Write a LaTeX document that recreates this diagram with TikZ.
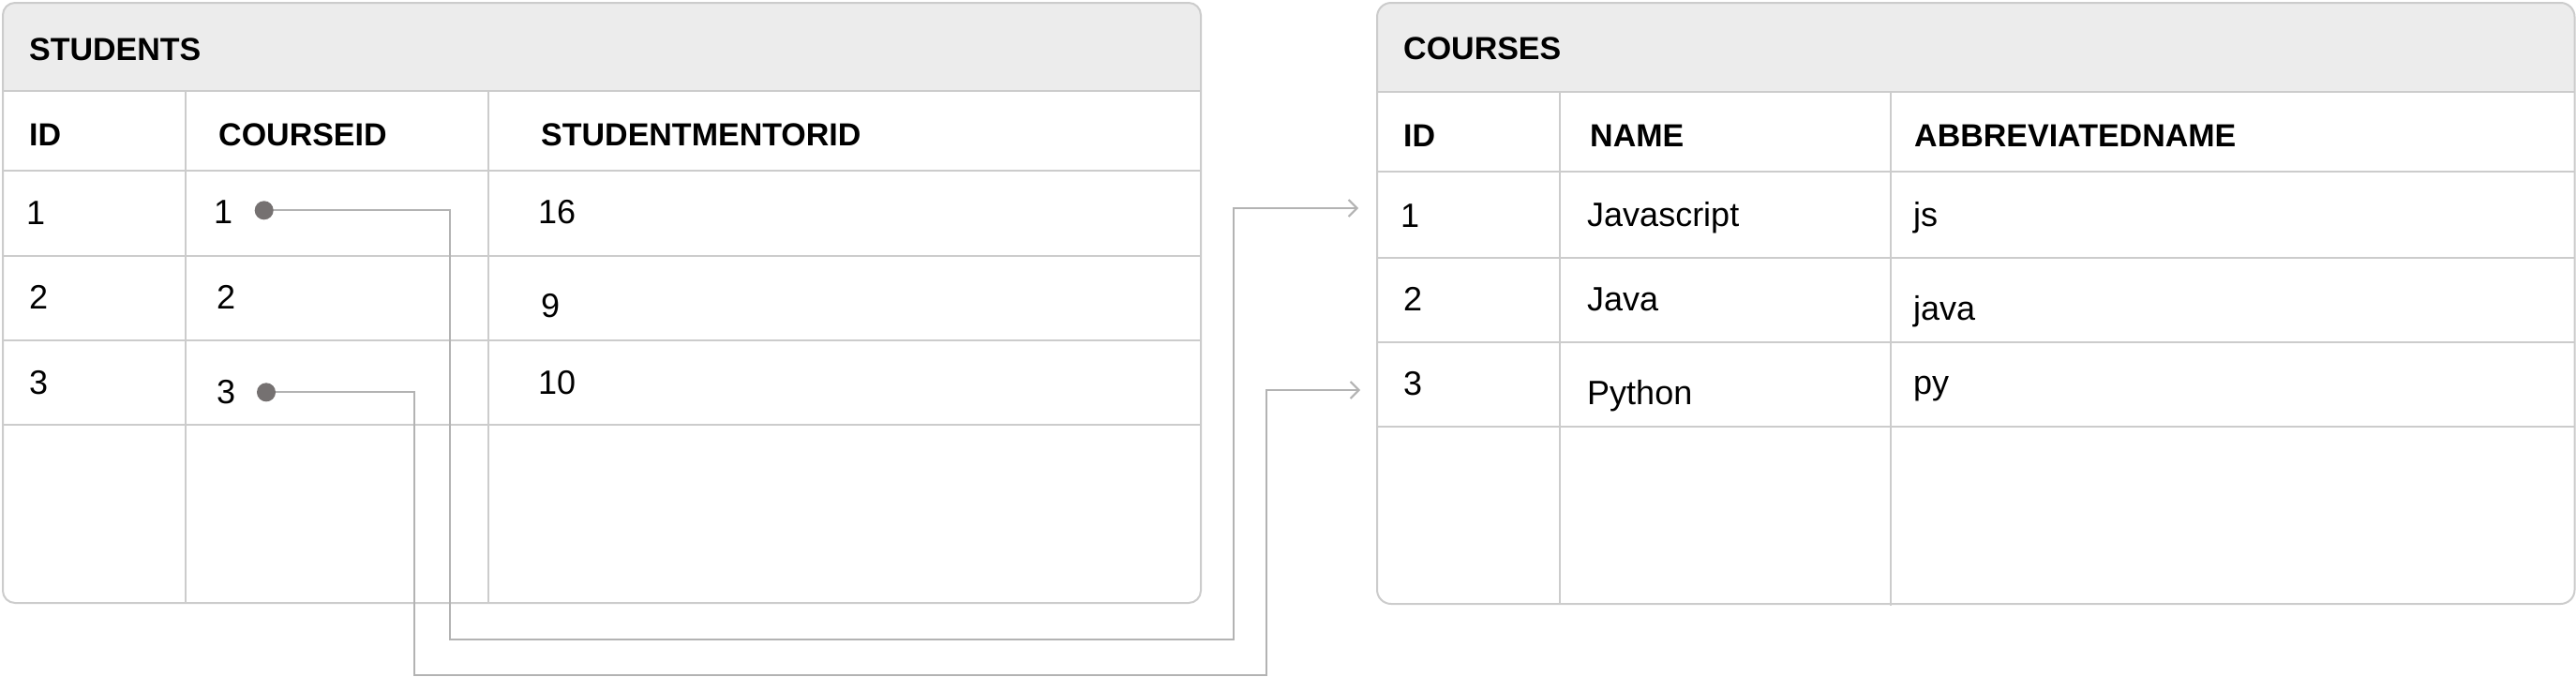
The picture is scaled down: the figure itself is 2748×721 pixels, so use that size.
\documentclass[tikz,border=0pt]{standalone}
\usepackage{fontspec}
\setmainfont{Liberation Sans}
\usetikzlibrary{arrows.meta}
\definecolor{gridc}{HTML}{CCCCCC}
\definecolor{headc}{HTML}{ECECEC}
\definecolor{connc}{HTML}{B3B3B3}
\definecolor{dotc}{HTML}{757171}
\tikzset{
  grid/.style={draw=gridc, line width=2pt},
  conn/.style={draw=connc, line width=2pt},
  dotnode/.style={circle, fill=dotc, minimum size=20pt, inner sep=0pt},
  hd/.style={anchor=base west, inner sep=0pt, font=\fontsize{34}{40}\selectfont\bfseries},
  cell/.style={anchor=base west, inner sep=0pt, font=\fontsize{36}{40}\selectfont},
  tip/.style={-{Straight Barb[length=9pt,width=18pt,line width=2pt]}}
}
\begin{document}
\begin{tikzpicture}[x=1pt,y=-1pt]
\useasboundingbox (0,0) rectangle (2748,721);
\fill[white] (0,0) rectangle (2748,721);

% ---------- STUDENTS table ----------
\begin{scope}
  \clip[rounded corners=13pt] (3,3) rectangle (1281,643);
  \fill[headc] (3,3) rectangle (1281,97);
\end{scope}
\foreach \yy in {97,181.7,272.7,362.7,452.7}{
  \draw[grid] (3,\yy) -- (1281,\yy);
}
\draw[grid] (198,97) -- (198,643);
\draw[grid] (521,97) -- (521,643);
\draw[grid, rounded corners=13pt] (3,3) rectangle (1281,643);

\node[hd] (stitle) at (31,64) {STUDENTS};
\node[hd] (sh1) at (31,155) {ID};
\node[hd] (sh2) at (233,155) {COURSEID};
\node[hd] (sh3) at (577,155) {STUDENTMENTORID};

\node[cell] (s11) at (28,239) {1};
\node[cell] (s12) at (228,238) {1};
\node[cell] (s13) at (574,238.3) {16};
\node[cell] (s21) at (31,329) {2};
\node[cell] (s22) at (231,329) {2};
\node[cell] (s23) at (577,338.3) {9};
\node[cell] (s31) at (31,420) {3};
\node[cell] (s32) at (231,430) {3};
\node[cell] (s33) at (574,420) {10};

% ---------- COURSES table ----------
\begin{scope}
  \clip[rounded corners=15pt] (1469,3) rectangle (2746.5,644);
  \fill[headc] (1469,3) rectangle (2747,98.3);
\end{scope}
\foreach \yy in {98.3,182.7,275,365,455}{
  \draw[grid] (1469,\yy) -- (2746.5,\yy);
}
\draw[grid] (1664,98.3) -- (1664,644);
\draw[grid] (2017,98.3) -- (2017,646);
\draw[grid, rounded corners=15pt] (1469,3) rectangle (2746.5,644);

\node[hd] (ctitle) at (1497,63.5) {COURSES};
\node[hd] (ch1) at (1497,156.5) {ID};
\node[hd] (ch2) at (1696,156.5) {NAME};
\node[hd] (ch3) at (2042,156.5) {ABBREVIATEDNAME};

\node[cell] (c11) at (1494,242) {1};
\node[cell] (c12) at (1693,241) {Javascript};
\node[cell] (c13) at (2041,241) {js};
\node[cell] (c21) at (1497,331.7) {2};
\node[cell] (c22) at (1693,331.7) {Java};
\node[cell] (c23) at (2041,341) {java};
\node[cell] (c31) at (1497,421.7) {3};
\node[cell] (c32) at (1693,431.7) {Python};
\node[cell] (c33) at (2041,420) {py};

% ---------- connectors ----------
\coordinate (t1) at (1449,222);
\coordinate (t2) at (1451,416);
\draw[conn, tip] (281.7,224.3) -- (480,224.3) -- (480,681.7) -- (1316,681.7) -- (1316,222) -- (t1);
\draw[conn, tip] (284,418.3) -- (441.7,418.3) -- (441.7,719.5) -- (1351,719.5) -- (1351,416) -- (t2);
\node[dotnode] (d1) at (281.7,224.3) {};
\node[dotnode] (d2) at (284,418.3) {};
\end{tikzpicture}
\end{document}
